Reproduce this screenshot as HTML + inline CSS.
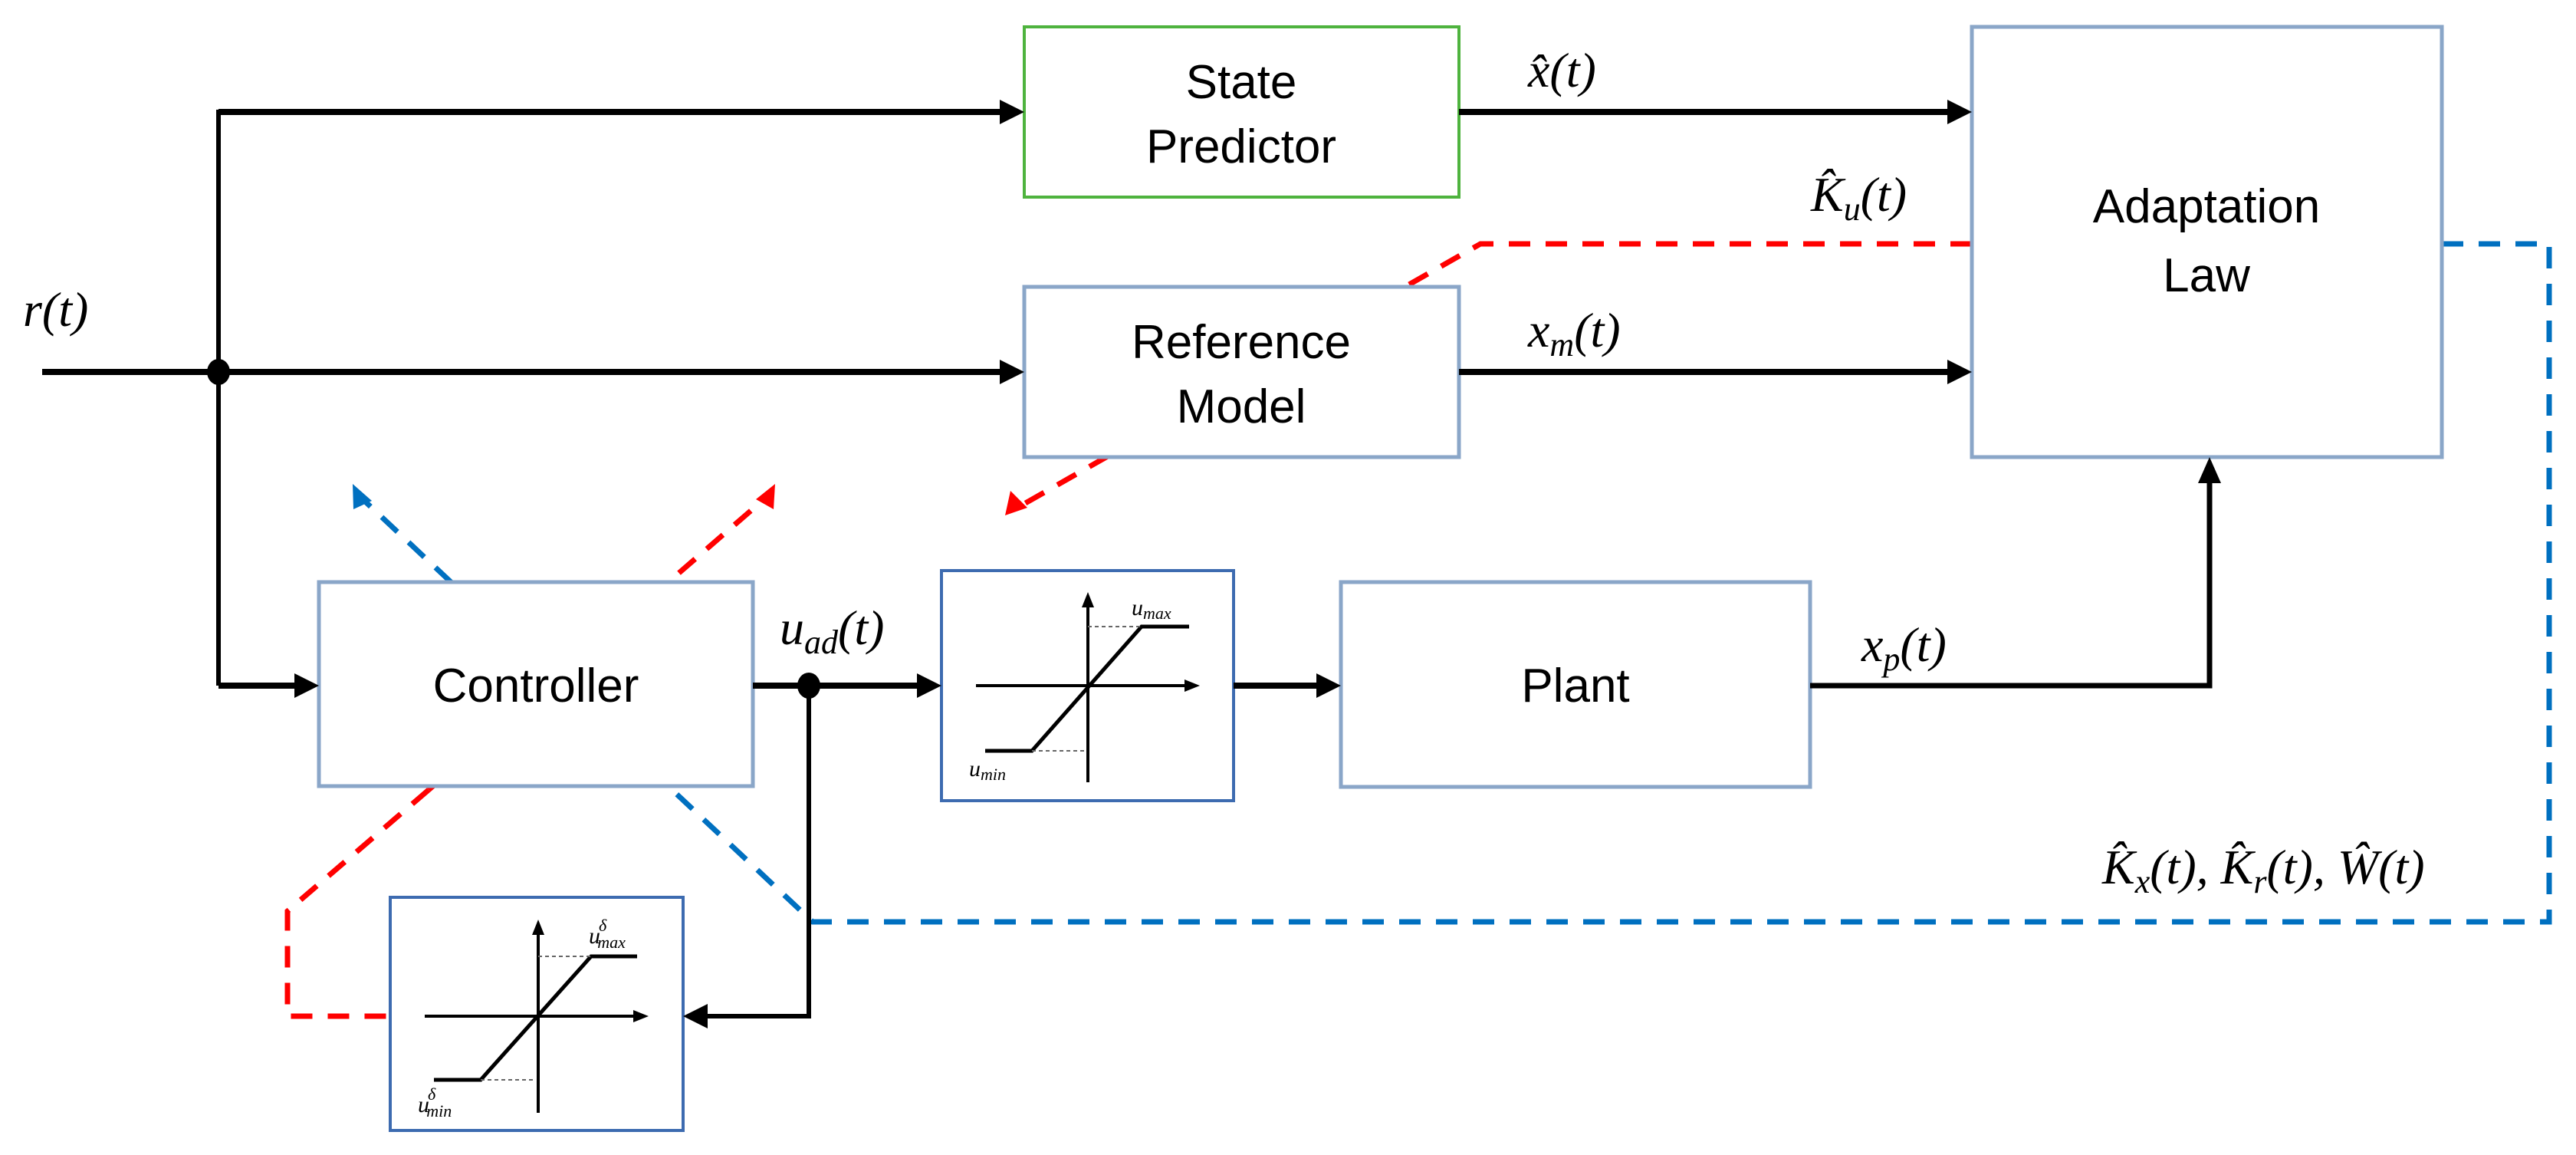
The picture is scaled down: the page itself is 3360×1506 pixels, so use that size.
<!DOCTYPE html>
<html><head><meta charset="utf-8"><style>
html,body{margin:0;padding:0;background:#fff;}
svg{display:block;}
.box{font-family:"Liberation Sans",sans-serif;font-size:62px;fill:#000;}
.m{font-family:"Liberation Serif",serif;font-style:italic;font-size:64px;fill:#000;}
.s{font-family:"Liberation Serif",serif;font-style:italic;fill:#000;}
</style></head><body>
<svg width="3360" height="1506" viewBox="0 0 3360 1506" xmlns="http://www.w3.org/2000/svg">
<rect width="3360" height="1506" fill="#fff"/>

<g fill="none" stroke-width="7" stroke-dasharray="28,20">
  <polyline stroke="#ff0000" points="2572,318 1931,318 1327,662"/>
  <line stroke="#ff0000" x1="559" y1="1030" x2="1000" y2="648"/>
  <polyline stroke="#ff0000" points="559,1030 375,1188 375,1325 509,1325"/>
  <polyline stroke="#0070c0" points="3185,318 3325,318 3325,1202 1060,1202 470,648"/>
</g>
<polygon fill="#ff0000" points="1311,672 1318,640 1340,662"/>
<polygon fill="#ff0000" points="1011,631 1009,664 986,651"/>
<polygon fill="#0070c0" points="460,631 485,653 461,664"/>

<rect x="1336" y="35" width="567" height="222" fill="#fff" stroke="#4eb33e" stroke-width="4"/>
<rect x="1336" y="374" width="567" height="222" fill="#fff" stroke="#8aa6c8" stroke-width="5"/>
<rect x="2572" y="35" width="613" height="561" fill="#fff" stroke="#8aa6c8" stroke-width="5"/>
<rect x="416" y="759" width="566" height="266" fill="#fff" stroke="#8aa6c8" stroke-width="5"/>
<rect x="1749" y="759" width="612" height="267" fill="#fff" stroke="#8aa6c8" stroke-width="5"/>
<rect x="1228" y="744" width="381" height="300" fill="#fff" stroke="#3d6bb0" stroke-width="4"/>
<rect x="509" y="1170" width="382" height="304" fill="#fff" stroke="#3d6bb0" stroke-width="4"/>

<text class="box" x="1619" y="128" text-anchor="middle">State</text>
<text class="box" x="1619" y="212" text-anchor="middle">Predictor</text>
<text class="box" x="1619" y="467" text-anchor="middle">Reference</text>
<text class="box" x="1619" y="551" text-anchor="middle">Model</text>
<text class="box" x="2878" y="290" text-anchor="middle">Adaptation</text>
<text class="box" x="2878" y="380" text-anchor="middle">Law</text>
<text class="box" x="699" y="915" text-anchor="middle">Controller</text>
<text class="box" x="2055" y="915" text-anchor="middle">Plant</text>

<g stroke="#000" fill="none">
  <line x1="55" y1="485" x2="1306" y2="485" stroke-width="8"/>
  <polyline points="285,894 285,146 1306,146" stroke-width="6"/>
  <line x1="285" y1="146" x2="1306" y2="146" stroke-width="8"/>
  <line x1="285" y1="894" x2="386" y2="894" stroke-width="8"/>
  <line x1="1903" y1="146" x2="2542" y2="146" stroke-width="8"/>
  <line x1="1903" y1="485" x2="2542" y2="485" stroke-width="8"/>
  <line x1="982" y1="894" x2="1198" y2="894" stroke-width="8"/>
  <line x1="1609" y1="894" x2="1719" y2="894" stroke-width="8"/>
  <polyline points="2361,894 2882,894 2882,626" stroke-width="7"/>
  <polyline points="1055,894 1055,1325 921,1325" stroke-width="6"/>
</g>
<g fill="#000">
  <polygon points="1336,146 1304,130 1304,162"/>
  <polygon points="1336,485 1304,469 1304,501"/>
  <polygon points="2572,146 2540,130 2540,162"/>
  <polygon points="2572,485 2540,469 2540,501"/>
  <polygon points="416,894 384,878 384,910"/>
  <polygon points="1228,894 1196,878 1196,910"/>
  <polygon points="1749,894 1717,878 1717,910"/>
  <polygon points="2882,596 2867,630 2897,630"/>
  <polygon points="891,1325 923,1309 923,1341"/>
  <ellipse cx="285" cy="485" rx="15" ry="17"/>
  <ellipse cx="1055" cy="894" rx="15" ry="17"/>
</g>

<g stroke="#000" fill="none" stroke-width="4">
  <line x1="1273" y1="894" x2="1550" y2="894"/>
  <line x1="1419" y1="1020" x2="1419" y2="788"/>
  <polyline points="1285,979 1346,979 1489,817 1551,817" stroke-width="5"/>
  <line x1="1419" y1="817" x2="1489" y2="817" stroke-width="2" stroke-dasharray="5,4" stroke="#666"/>
  <line x1="1346" y1="979" x2="1414" y2="979" stroke-width="2" stroke-dasharray="5,4" stroke="#666"/>
</g>
<polygon points="1565,894 1545,886 1545,902" fill="#000"/>
<polygon points="1419,772 1411,792 1427,792" fill="#000"/>
<text class="s" x="1476" y="802" font-size="30">u<tspan font-size="22" dy="5">max</tspan></text>
<text class="s" x="1264" y="1012" font-size="30">u<tspan font-size="22" dy="5">min</tspan></text>

<g stroke="#000" fill="none" stroke-width="4">
  <line x1="554" y1="1325" x2="832" y2="1325"/>
  <line x1="702" y1="1451" x2="702" y2="1215"/>
  <polyline points="566,1408 627,1408 771,1247 831,1247" stroke-width="5"/>
  <line x1="702" y1="1247" x2="771" y2="1247" stroke-width="2" stroke-dasharray="5,4" stroke="#666"/>
  <line x1="627" y1="1408" x2="697" y2="1408" stroke-width="2" stroke-dasharray="5,4" stroke="#666"/>
</g>
<polygon points="846,1325 826,1317 826,1333" fill="#000"/>
<polygon points="702,1199 694,1219 710,1219" fill="#000"/>
<text class="s" x="768" y="1230" font-size="30">u<tspan font-size="22" dx="-2" dy="-16">δ</tspan><tspan font-size="22" dx="-12" dy="22">max</tspan></text>
<text class="s" x="545" y="1450" font-size="30">u<tspan font-size="22" dx="-2" dy="-16">δ</tspan><tspan font-size="22" dx="-12" dy="22">min</tspan></text>

<text class="m" x="30" y="425">r(t)</text>
<text class="m" x="1993" y="113">x̂(t)</text>
<text class="m" x="1993" y="452">x<tspan font-size="44" dy="12">m</tspan><tspan dy="-12">(t)</tspan></text>
<text class="m" x="2362" y="275">K̂<tspan font-size="44" dy="12">u</tspan><tspan dy="-12">(t)</tspan></text>
<text class="m" x="1017" y="840">u<tspan font-size="44" dy="12">ad</tspan><tspan dy="-12">(t)</tspan></text>
<text class="m" x="2428" y="862">x<tspan font-size="44" dy="12">p</tspan><tspan dy="-12">(t)</tspan></text>
<text class="m" x="2742" y="1152">K̂<tspan font-size="44" dy="12">x</tspan><tspan dy="-12">(t), K̂</tspan><tspan font-size="44" dy="12">r</tspan><tspan dy="-12">(t), Ŵ(t)</tspan></text>
</svg>
</body></html>
